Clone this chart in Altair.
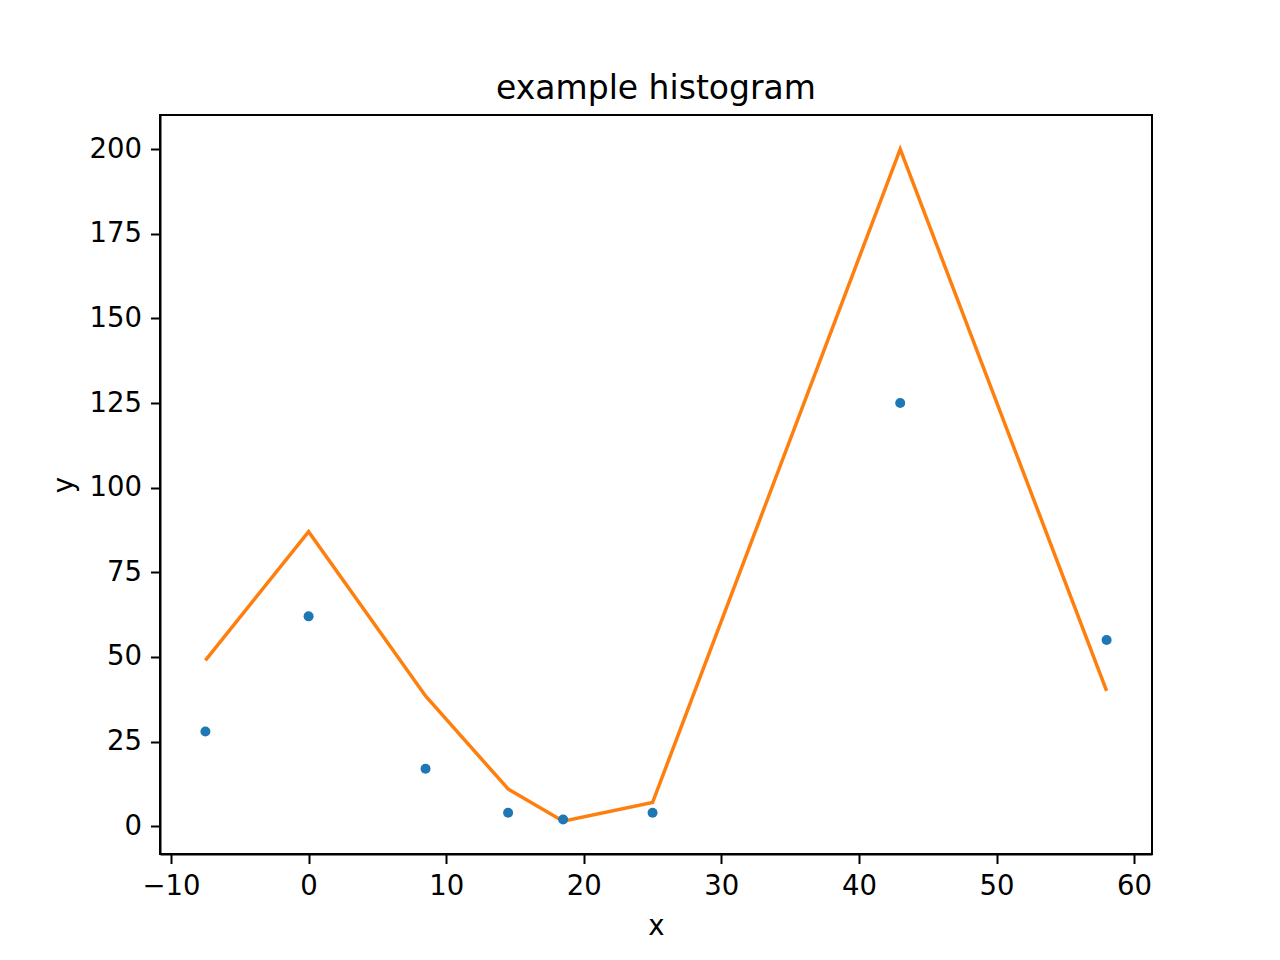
import altair as alt
import pandas as pd

pt_x = [-7.5, 0, 8.5, 14.5, 18.5, 25, 43, 58]
pt_y = [28, 62, 17, 4, 2, 4, 125, 55]
line_y = [49, 87, 38.5, 11, 1.5, 7, 200, 40]

df = pd.DataFrame({"x": pt_x, "y": pt_y, "fit": line_y})

xs = alt.Scale(domain=[-10.8, 61.3], nice=False, zero=False)
ys = alt.Scale(domain=[-8.2, 210.1], nice=False, zero=False)

FONT = "DejaVu Sans"
FS = 27.5

common = dict(grid=False, labelFontSize=FS, titleFontSize=FS, labelFont=FONT, titleFont=FONT,
              labelColor="black", titleColor="black", tickColor="black", tickSize=9.5,
              tickWidth=2, domainColor="black", domainWidth=2, labelPadding=9,
              titleFontWeight="normal", labelFlush=False)

xaxis = alt.Axis(values=[-10, 0, 10, 20, 30, 40, 50, 60], title="x", titlePadding=12, **common)
yaxis = alt.Axis(values=[0, 25, 50, 75, 100, 125, 150, 175, 200], title="y", titlePadding=11, **common)

line = alt.Chart(df).mark_line(color="#ff7f0e", strokeWidth=3.5, strokeCap="butt").encode(
    x=alt.X("x:Q", scale=xs, axis=xaxis),
    y=alt.Y("fit:Q", scale=ys, axis=yaxis),
)
pts = alt.Chart(df).mark_circle(color="#1f77b4", size=100, opacity=1).encode(
    x=alt.X("x:Q", scale=xs),
    y=alt.Y("y:Q", scale=ys),
)

chart = alt.layer(line, pts).properties(
    width=992, height=739,
    title=alt.TitleParams("example histogram", fontSize=33, font=FONT, fontWeight="normal",
                          color="black", offset=9),
    autosize=alt.AutoSizeParams(type="none"),
    padding={"left": 152, "top": 107, "right": 120, "bottom": 98},
).configure_view(stroke="black", strokeWidth=2)

chart.save("out.html", embed_options={"renderer": "svg", "actions": False})
